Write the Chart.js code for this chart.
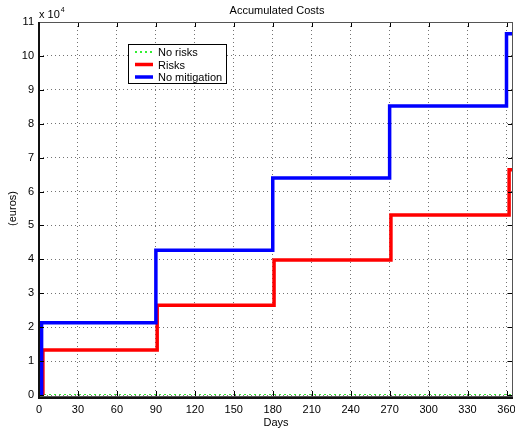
<!DOCTYPE html>
<html>
<head>
<meta charset="utf-8">
<script src="https://cdn.jsdelivr.net/npm/chart.js@4/dist/chart.umd.min.js"></script>
<style>
  html, body { margin: 0; padding: 0; background: #fff; }
  #wrap { width: 515px; height: 430px; }
</style>
</head>
<body>
<div id="wrap"><canvas id="costChart" width="515" height="430"></canvas></div>
<script>
// data (euros, days)
const noRiskDays = [0, 365];
const noRiskCost = [0, 0];
const riskDays = [0, 3, 91, 181, 271, 362, 365];
const riskCost = [0, 13300, 26500, 39800, 53100, 66400, 66400];
const noMitDays = [0, 2, 90, 180, 270, 360, 365];
const noMitCost = [0, 21300, 42700, 64000, 85200, 106500, 106500];
const xTicks = [0, 30, 60, 90, 120, 150, 180, 210, 240, 270, 300, 330, 360];
const yTicks = [0, 1, 2, 3, 4, 5, 6, 7, 8, 9, 10, 11];

const FONT = "'Liberation Sans', Arial, Helvetica, sans-serif";

function pts(xs, ys) {
    return xs.map((x, i) => ({ x: x, y: ys[i] }));
}

// matlab style frame, inner ticks, title, exponent and legend
const matlabBits = {
    id: 'matlabBits',
    afterDraw(chart) {
        const ctx = chart.ctx;
        const a = chart.chartArea;
        const xs = chart.scales.x, ys = chart.scales.y;
        ctx.save();
        ctx.strokeStyle = '#000';
        ctx.lineWidth = 1;
        ctx.beginPath();
        xTicks.forEach(v => {
            const px = Math.round(xs.getPixelForValue(v)) + 0.5;
            ctx.moveTo(px, a.bottom + 1); ctx.lineTo(px, a.bottom - 4);
            ctx.moveTo(px, a.top); ctx.lineTo(px, a.top + 5);
        });
        yTicks.forEach(v => {
            const py = Math.round(ys.getPixelForValue(v * 10000)) + 0.5;
            ctx.moveTo(a.left, py); ctx.lineTo(a.left + 5, py);
            ctx.moveTo(a.right, py); ctx.lineTo(a.right - 5, py);
        });
        ctx.stroke();
        // box
        ctx.strokeStyle = '#555';
        ctx.strokeRect(a.left + 0.5, a.top + 0.5, a.right - a.left - 1, a.bottom - a.top + 1);
        ctx.strokeStyle = '#111';
        ctx.lineWidth = 2;
        ctx.beginPath();
        ctx.moveTo(a.left, a.top); ctx.lineTo(a.left, a.bottom + 3);
        ctx.lineTo(a.right, a.bottom + 3);
        ctx.stroke();

        // title and exponent
        ctx.fillStyle = '#000';
        ctx.font = '11px ' + FONT;
        ctx.textAlign = 'center';
        ctx.textBaseline = 'middle';
        ctx.fillText('Accumulated Costs', (a.left + a.right) / 2 + 1, 11);
        ctx.textAlign = 'left';
        ctx.fillText('x 10', 39, 15);
        const ew = ctx.measureText('x 10').width;
        ctx.font = '7px ' + FONT;
        ctx.fillText('4', 39 + ew + 1, 10);

        // legend
        const lx = 128, ly = 44, lw = 98, lh = 39;
        ctx.fillStyle = '#fff';
        ctx.fillRect(lx, ly, lw, lh);
        ctx.strokeStyle = '#000';
        ctx.lineWidth = 1;
        ctx.strokeRect(lx + 0.5, ly + 0.5, lw, lh);
        ctx.font = '11px ' + FONT;
        chart.data.datasets.forEach((ds, i) => {
            const y = ly + 8 + i * 12.5;
            ctx.strokeStyle = ds.borderColor;
            ctx.lineWidth = ds.borderWidth;
            ctx.setLineDash(ds.borderDash || []);
            ctx.beginPath();
            ctx.moveTo(135, y); ctx.lineTo(153, y);
            ctx.stroke();
            ctx.setLineDash([]);
            ctx.fillStyle = '#000';
            ctx.fillText(ds.label, 158, y + 1);
        });
        ctx.restore();
    }
};

const ctx = document.getElementById('costChart').getContext('2d');
const costChart = new Chart(ctx, {
    type: 'line',
    data: {
        datasets: [{
            label: 'No risks',
            data: pts(noRiskDays, noRiskCost),
            borderColor: '#33ee33',
            borderWidth: 2,
            borderDash: [2, 3],
            order: 2
        }, {
            label: 'Risks',
            data: pts(riskDays, riskCost),
            borderColor: '#ff0000',
            borderWidth: 3.5,
            stepped: 'before',
            order: 1
        }, {
            label: 'No mitigation',
            data: pts(noMitDays, noMitCost),
            borderColor: '#0000ff',
            borderWidth: 3.5,
            stepped: 'before',
            order: 0
        }]
    },
    options: {
        responsive: false,
        animation: false,
        layout: { padding: { top: 22, right: 2, left: 0, bottom: 0 } },
        elements: { point: { radius: 0 }, line: { tension: 0 } },
        plugins: {
            legend: { display: false },
            tooltip: { enabled: false },
            title: { display: false }
        },
        scales: {
            x: {
                type: 'linear',
                min: 0,
                max: 365,
                afterBuildTicks: scale => { scale.ticks = xTicks.map(v => ({ value: v })); },
                afterFit: scale => {
                    scale.height = 35;
                    scale.paddingRight = 0;
                    scale.paddingLeft = 0;
                },
                grid: { color: 'rgba(0,0,0,0.55)', lineWidth: 1, drawTicks: false },
                border: { display: false, dash: [1, 3] },
                ticks: { color: '#000', font: { family: FONT, size: 11 }, padding: 8, maxRotation: 0 },
                title: { display: true, text: 'Days', color: '#000', font: { family: FONT, size: 11 }, padding: { top: 0, bottom: 0 } }
            },
            y: {
                min: 0,
                max: 110000,
                afterBuildTicks: scale => { scale.ticks = yTicks.map(v => ({ value: v * 10000 })); },
                afterFit: scale => { scale.width = 39; },
                grid: { color: 'rgba(0,0,0,0.55)', lineWidth: 1, drawTicks: false },
                border: { display: false, dash: [1, 3] },
                ticks: { color: '#000', font: { family: FONT, size: 11 }, padding: 5, callback: v => v / 10000 },
                title: { display: true, text: '(euros)', color: '#000', font: { family: FONT, size: 11 }, padding: { top: 6, bottom: 4 } }
            }
        }
    },
    plugins: [matlabBits]
});
</script>
</body>
</html>
